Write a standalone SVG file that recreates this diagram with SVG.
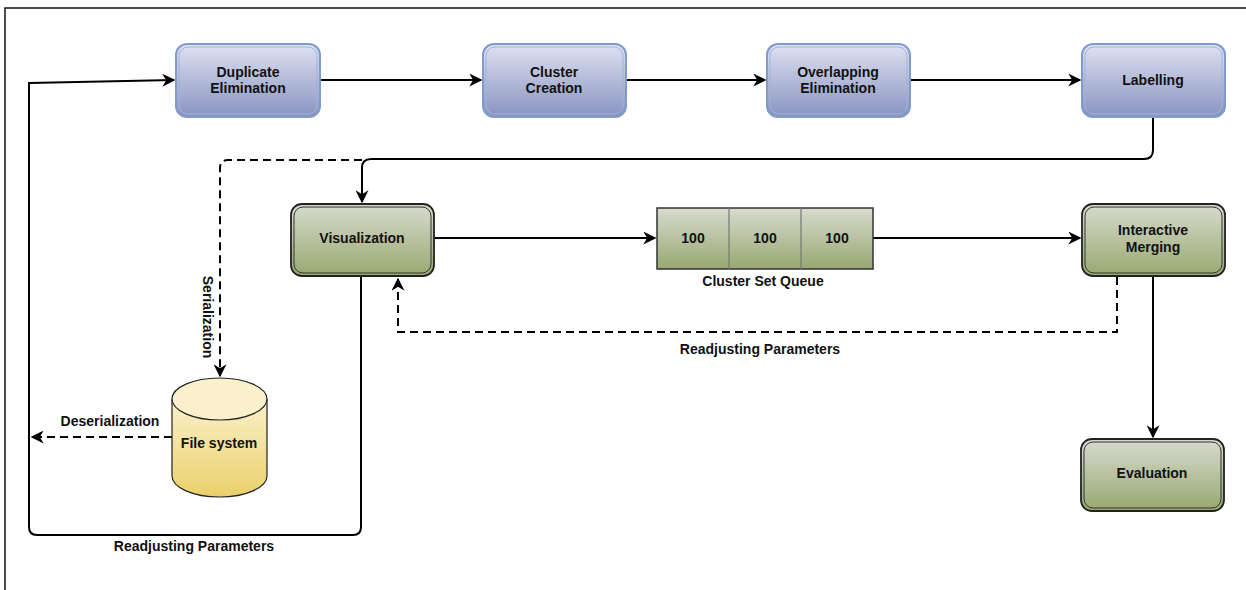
<svg xmlns="http://www.w3.org/2000/svg" width="1246" height="590" viewBox="0 0 1246 590">
<defs>
<linearGradient id="gBlue" x1="0" y1="0" x2="0" y2="1"><stop offset="0" stop-color="#dfe2f2"/><stop offset="1" stop-color="#8893bf"/></linearGradient>
<linearGradient id="gGreen" x1="0" y1="0" x2="0" y2="1"><stop offset="0" stop-color="#d8dbcf"/><stop offset="1" stop-color="#97a870"/></linearGradient>
<linearGradient id="gYellow" x1="0" y1="0" x2="0" y2="1"><stop offset="0" stop-color="#fbf1cc"/><stop offset="1" stop-color="#ead06a"/></linearGradient>
<marker id="arrL" viewBox="0 0 10 10" refX="9" refY="5" markerWidth="13" markerHeight="13" markerUnits="userSpaceOnUse" orient="auto"><path d="M0,0 L10,5 L0,10 L3,5 Z" fill="#000"/></marker>
</defs>
<style>
.t{font-family:"Liberation Sans",Arial,sans-serif;font-weight:bold;font-size:14px;fill:#111;text-anchor:middle;dominant-baseline:central}
.bo{fill:url(#gBlue);stroke:#7f9acb;stroke-width:2}
.bi{fill:none;stroke:#9fb3da;stroke-width:1}
.go{fill:url(#gGreen);stroke:#222;stroke-width:1.8}
.gi{fill:none;stroke:#333;stroke-width:1}
.c{fill:none;stroke:#000;stroke-width:2}
.d{fill:none;stroke:#000;stroke-width:2;stroke-dasharray:8,5}
</style>
<rect width="1246" height="590" fill="#fff"/>
<path d="M5,590 V8 H1246" fill="none" stroke="#111" stroke-width="1.5"/>

<g id="connectors">
<path class="c" d="M29,83 L174,80" marker-end="url(#arrL)"/>
<path class="c" d="M29,82 V527 Q29,535 37,535 H353 Q361,535 361,527 V277"/>
<path class="c" d="M320,80 H481" marker-end="url(#arrL)"/>
<path class="c" d="M626,80 H765" marker-end="url(#arrL)"/>
<path class="c" d="M910,80 H1080" marker-end="url(#arrL)"/>
<path class="c" d="M1153,118 V150 Q1153,159 1144,159 H371 Q362,159 362,168 V202" marker-end="url(#arrL)"/>
<path class="d" d="M362,160 H228 Q220,160 220,168 V376" marker-end="url(#arrL)"/>
<path class="d" d="M172,437 H32" marker-end="url(#arrL)"/>
<path class="c" d="M434,238 H655" marker-end="url(#arrL)"/>
<path class="c" d="M873,238 H1080" marker-end="url(#arrL)"/>
<path class="c" d="M1153,277 V437" marker-end="url(#arrL)"/>
<path class="d" d="M1117,277 V332 H398 V279" marker-end="url(#arrL)"/>
<text class="t" transform="translate(208,317) rotate(90)">Serialization</text>
<text class="t" x="110" y="421">Deserialization</text>
<text class="t" x="194" y="546">Readjusting Parameters</text>
<text class="t" x="760" y="349">Readjusting Parameters</text>
</g>

<g id="dup">
<rect class="bo" x="176" y="44" width="144" height="73" rx="11"/>
<rect class="bi" x="179" y="47" width="138" height="67" rx="9"/>
<text class="t" x="248" y="72">Duplicate</text>
<text class="t" x="248" y="88">Elimination</text>
</g>
<g id="cluster">
<rect class="bo" x="483" y="44" width="143" height="73" rx="11"/>
<rect class="bi" x="486" y="47" width="137" height="67" rx="9"/>
<text class="t" x="554" y="72">Cluster</text>
<text class="t" x="554" y="88">Creation</text>
</g>
<g id="overlap">
<rect class="bo" x="767" y="44" width="143" height="73" rx="11"/>
<rect class="bi" x="770" y="47" width="137" height="67" rx="9"/>
<text class="t" x="838" y="72">Overlapping</text>
<text class="t" x="838" y="88">Elimination</text>
</g>
<g id="label">
<rect class="bo" x="1082" y="44" width="143" height="73" rx="11"/>
<rect class="bi" x="1085" y="47" width="137" height="67" rx="9"/>
<text class="t" x="1153" y="80">Labelling</text>
</g>

<g id="vis">
<rect class="go" x="291" y="204" width="143" height="72" rx="11"/>
<rect class="gi" x="294" y="207" width="137" height="66" rx="9"/>
<text class="t" x="362" y="238">Visualization</text>
</g>
<g id="queue">
<rect x="657" y="208" width="216" height="61" fill="url(#gGreen)" stroke="#333" stroke-width="1.5"/>
<path d="M729,208 V269 M801,208 V269" stroke="#777" stroke-width="1.2"/>
<text class="t" x="693" y="238">100</text>
<text class="t" x="765" y="238">100</text>
<text class="t" x="837" y="238">100</text>
<text class="t" x="763" y="281">Cluster Set Queue</text>
</g>
<g id="merge">
<rect class="go" x="1082" y="204" width="143" height="72" rx="11"/>
<rect class="gi" x="1085" y="207" width="137" height="66" rx="9"/>
<text class="t" x="1153" y="230">Interactive</text>
<text class="t" x="1153" y="247">Merging</text>
</g>
<g id="eval">
<rect class="go" x="1081" y="439" width="143" height="72" rx="11"/>
<rect class="gi" x="1084" y="442" width="137" height="66" rx="9"/>
<text class="t" x="1152" y="473">Evaluation</text>
</g>
<g id="fs">
<path d="M172,399 V476 A47.5,21 0 0 0 267,476 V399" fill="url(#gYellow)" stroke="#222" stroke-width="1.2"/>
<ellipse cx="219.5" cy="399" rx="47.5" ry="21" fill="#fbf0cc" stroke="#222" stroke-width="1.2"/>
<text class="t" x="219" y="443">File system</text>
</g>
</svg>
